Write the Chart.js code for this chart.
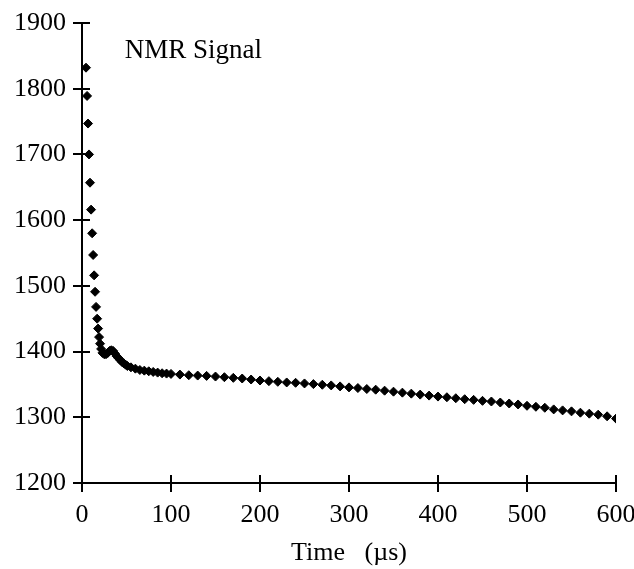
<!DOCTYPE html>
<html>
<head>
<meta charset="utf-8">
<script src="https://cdn.jsdelivr.net/npm/chart.js@4.4.1/dist/chart.umd.min.js"></script>
<style>
  body { margin: 0; background: #fff; }
  #myChart { display: block; }
</style>
</head>
<body>
<canvas id="myChart" width="634" height="569"></canvas>
<script>
// time in microseconds
const times = [
  4.5, 5.7, 6.8, 7.9, 9.0, 10.2, 11.4, 12.5, 13.6, 14.7, 15.8, 17.0, 18.1, 19.2, 20.3, 21.5,
  23, 25, 27, 29, 31, 33, 35, 37, 39, 41, 43, 45, 47, 49, 51,
  55, 60, 65, 70, 75, 80, 85, 90, 95, 100,
  110, 120, 130, 140, 150, 160, 170, 180, 190, 200,
  210, 220, 230, 240, 250, 260, 270, 280, 290, 300,
  310, 320, 330, 340, 350, 360, 370, 380, 390, 400,
  410, 420, 430, 440, 450, 460, 470, 480, 490, 500,
  510, 520, 530, 540, 550, 560, 570, 580, 590, 600
];
const signal = [
  1832, 1789, 1747, 1700, 1657, 1616, 1580, 1547, 1516, 1491, 1468, 1450, 1435, 1422, 1412, 1404,
  1398, 1396, 1396, 1398, 1401, 1402, 1401, 1397, 1393, 1390, 1387, 1384, 1382, 1380, 1378,
  1376, 1374, 1372, 1371, 1370, 1369, 1368, 1367, 1366.5, 1366,
  1365, 1364, 1363.5, 1363, 1362, 1361, 1360, 1359, 1357.5, 1356,
  1355, 1354, 1353, 1352.5, 1351.5, 1350.5, 1349.5, 1348.5, 1347, 1345.5,
  1344.5, 1343, 1342, 1340.5, 1339, 1337.5, 1336, 1334.5, 1333, 1331.5,
  1330.5, 1329, 1327.5, 1326.5, 1325, 1324, 1322.5, 1321, 1319.5, 1317.5,
  1316, 1314.5, 1312, 1310.5, 1309, 1307, 1305.5, 1304, 1301.5, 1298
];
const xTicks = [0, 100, 200, 300, 400, 500, 600];
const yTicks = [1200, 1300, 1400, 1500, 1600, 1700, 1800, 1900];
const plotTitle = 'NMR Signal';
const xTitle = 'Time   (\u00b5s)';

const serif = '"Liberation Serif", "DejaVu Serif", serif';

// tick marks that poke into the plot area too, plus the inner title
const innerMarks = {
  id: 'innerMarks',
  afterDraw(chart) {
    const c = chart.ctx;
    const xs = chart.scales.x, ys = chart.scales.y;
    const area = chart.chartArea;
    c.save();
    c.strokeStyle = '#000';
    c.lineWidth = 2;
    c.beginPath();
    yTicks.forEach(v => {
      const py = Math.round(ys.getPixelForValue(v));
      c.moveTo(area.left, py);
      c.lineTo(area.left + 8, py);
    });
    xTicks.forEach(v => {
      const px = Math.round(xs.getPixelForValue(v));
      c.moveTo(px, area.bottom);
      c.lineTo(px, area.bottom - 8);
    });
    c.stroke();
    c.fillStyle = '#000';
    c.font = '27px ' + serif;
    c.textBaseline = 'alphabetic';
    c.fillText(plotTitle, xs.getPixelForValue(48), ys.getPixelForValue(1847));
    c.restore();
  }
};

const ctx = document.getElementById('myChart').getContext('2d');
const nmrChart = new Chart(ctx, {
  type: 'scatter',
  data: {
    datasets: [{
      label: plotTitle,
      data: times.map((t, i) => ({ x: t, y: signal[i] })),
      pointStyle: 'rectRot',
      pointRadius: 4.5,
      borderWidth: 1,
      backgroundColor: '#000',
      borderColor: '#000',
    }]
  },
  options: {
    responsive: false,
    animation: false,
    layout: { padding: { left: 0, top: 23, right: 0, bottom: 0 } },
    plugins: {
      legend: { display: false },
      tooltip: { enabled: false },
    },
    scales: {
      x: {
        type: 'linear',
        min: 0,
        max: 600,
        afterBuildTicks: s => { s.ticks = xTicks.map(v => ({ value: v })); },
        afterFit: s => { s.height = 86; s.paddingRight = 18; s.paddingLeft = 0; },
        border: { color: '#000', width: 2 },
        grid: { drawOnChartArea: false, color: '#000', lineWidth: 2, tickLength: 9 },
        ticks: {
          color: '#000', padding: 8, maxRotation: 0,
          font: { family: serif, size: 26 },
          callback: v => String(v),
        },
        title: {
          display: true,
          text: xTitle,
          color: '#000',
          font: { family: serif, size: 26 },
          padding: { top: 4, bottom: 0 },
        },
      },
      y: {
        type: 'linear',
        min: 1200,
        max: 1900,
        afterBuildTicks: s => { s.ticks = yTicks.map(v => ({ value: v })); },
        afterFit: s => { s.width = 82; },
        border: { color: '#000', width: 2 },
        grid: { drawOnChartArea: false, color: '#000', lineWidth: 2, tickLength: 9 },
        ticks: {
          color: '#000', padding: 7,
          font: { family: serif, size: 26 },
          callback: v => String(v),
        },
      },
    },
  },
  plugins: [innerMarks],
});
</script>
</body>
</html>
